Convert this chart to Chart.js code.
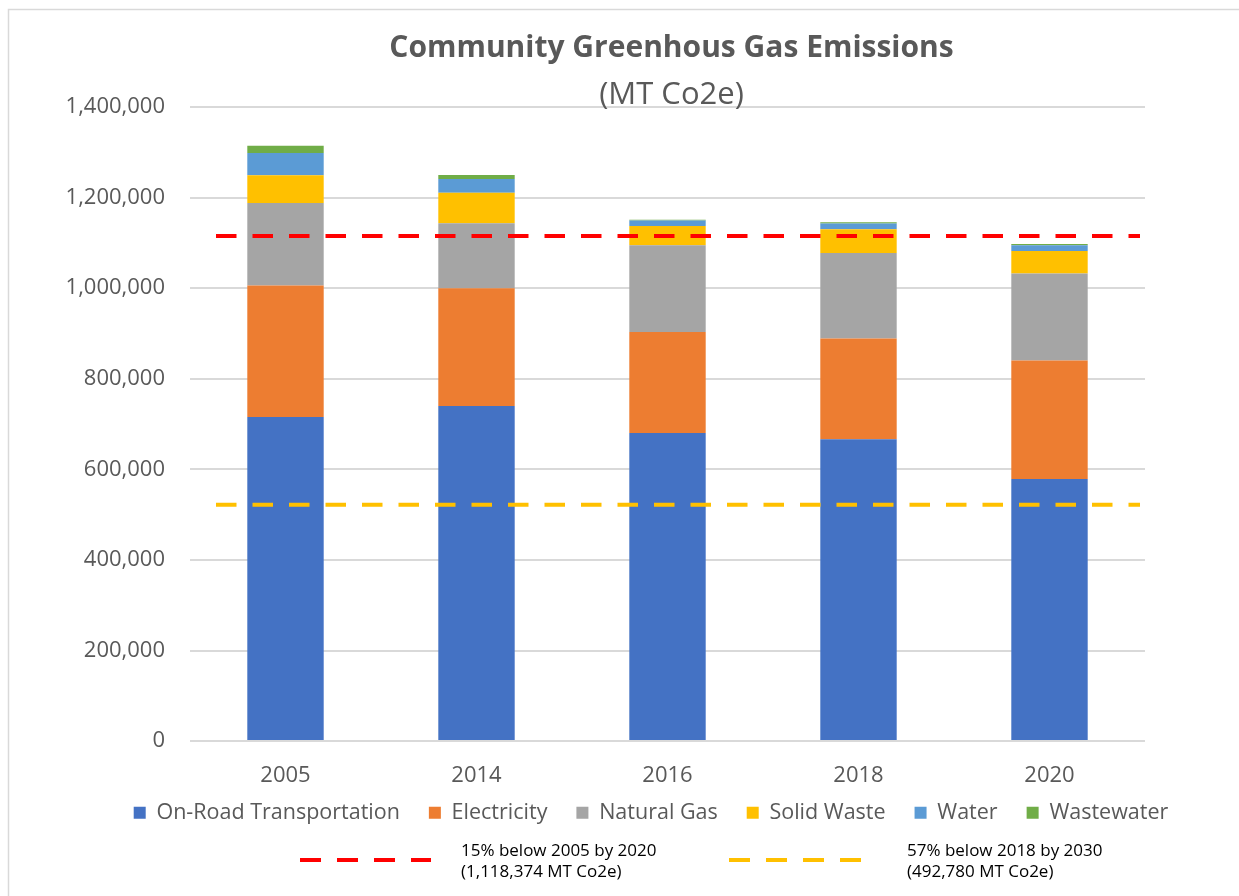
<!DOCTYPE html>
<html>
<head>
<meta charset="utf-8">
<script src="https://cdn.jsdelivr.net/npm/chart.js@4.4.1/dist/chart.umd.min.js"></script>
<style>
  html, body { margin: 0; padding: 0; background: #fff; }
  #wrap { position: absolute; left: 0; top: 0; width: 1239px; height: 896px; }
</style>
</head>
<body>
<div id="wrap"><canvas id="ghgChart"></canvas></div>
<script>
const years = ['2005', '2014', '2016', '2018', '2020'];
const transportation = [715500, 739900, 680000, 666700, 578600];
const electricity = [290500, 260100, 223200, 222400, 261600];
const naturalGas = [181800, 143400, 191400, 188500, 192200];
const solidWaste = [61400, 67200, 42900, 52500, 49500];
const water = [49400, 30400, 11800, 12600, 12600];
const wastewater = [15600, 8900, 2000, 3000, 3000];

const yMin = 0;
const yMax = 1400000;
const yStep = 200000;

const targetValues = [1115000, 522000];
const targetColors = ['#FF0000', '#FFC000'];
const targetLabels = [
  ['15% below 2005 by 2020', '(1,118,374 MT Co2e)'],
  ['57% below 2018 by 2030', '(492,780 MT Co2e)']
];

const textGray = '#595959';
const gridGray = '#D9D9D9';

// frame + white background
const framePlugin = {
  id: 'frame',
  beforeDraw(chart) {
    const ctx = chart.ctx;
    ctx.save();
    ctx.fillStyle = '#fff';
    ctx.fillRect(0, 0, chart.width, chart.height);
    ctx.strokeStyle = gridGray;
    ctx.lineWidth = 1.5;
    ctx.strokeRect(8.5, 9.5, chart.width + 20, chart.height + 20);
    ctx.restore();
  }
};

// pull the series legend up closer to the axis labels
const legendShift = {
  id: 'legendShift',
  afterLayout(chart) {
    const lg = chart.legend;
    if (!lg) return;
    const top = 773;
    lg.bottom = top + lg.height;
    lg.top = top;
  }
};

// title drawn by hand so it can overlap the top of the plot like the original
const titlePlugin = {
  id: 'titles',
  afterDraw(chart) {
    const ctx = chart.ctx;
    const cx = (chart.chartArea.left + chart.chartArea.right) / 2 + 4;
    ctx.save();
    ctx.fillStyle = textGray;
    ctx.textAlign = 'center';
    ctx.textBaseline = 'middle';
    ctx.font = 'bold 30px "Open Sans"';
    ctx.fillText('Community Greenhous Gas Emissions', cx, 48);
    ctx.font = '31px "Open Sans"';
    ctx.fillText('(MT Co2e)', cx, 95);
    ctx.restore();
  }
};

// dashed target lines across the plot
const targetPlugin = {
  id: 'targets',
  afterDatasetsDraw(chart) {
    const ctx = chart.ctx;
    const y = chart.scales.y;
    const a = chart.chartArea;
    ctx.save();
    ctx.lineWidth = 4;
    ctx.setLineDash([20.5, 16]);
    targetValues.forEach((v, i) => {
      const py = y.getPixelForValue(v);
      ctx.strokeStyle = targetColors[i];
      ctx.beginPath();
      ctx.moveTo(a.left + 26, py);
      ctx.lineTo(a.right - 5, py);
      ctx.stroke();
    });
    ctx.restore();
  }
};

// second legend for the target lines
const targetLegendPlugin = {
  id: 'targetLegend',
  afterDraw(chart) {
    const ctx = chart.ctx;
    const segs = [[300, 431], [729, 875]];
    const textX = [461, 907];
    ctx.save();
    targetValues.forEach((v, i) => {
      ctx.strokeStyle = targetColors[i];
      ctx.lineWidth = 4;
      ctx.setLineDash([21, 16]);
      ctx.beginPath();
      ctx.moveTo(segs[i][0], 860);
      ctx.lineTo(segs[i][1], 860);
      ctx.stroke();
      ctx.fillStyle = '#000';
      ctx.font = '17px "Liberation Sans Narrow", "Open Sans"';
      ctx.textAlign = 'left';
      ctx.textBaseline = 'middle';
      ctx.fillText(targetLabels[i][0], textX[i], 851);
      ctx.fillText(targetLabels[i][1], textX[i], 872);
    });
    ctx.restore();
  }
};

const mk = (label, data, color) => ({
  label, data, backgroundColor: color, borderWidth: 0,
  barPercentage: 0.4, categoryPercentage: 1.0
});

new Chart(document.getElementById('ghgChart'), {
  type: 'bar',
  data: {
    labels: years,
    datasets: [
      mk('On-Road Transportation', transportation, '#4472C4'),
      mk('Electricity', electricity, '#ED7D31'),
      mk('Natural Gas', naturalGas, '#A5A5A5'),
      mk('Solid Waste', solidWaste, '#FFC000'),
      mk('Water', water, '#5B9BD5'),
      mk('Wastewater', wastewater, '#70AD47')
    ]
  },
  options: {
    responsive: true,
    maintainAspectRatio: false,
    animation: false,
    layout: { padding: { top: 107, left: 63, right: 0, bottom: 26 } },
    plugins: {
      title: { display: false },
      tooltip: { enabled: false },
      legend: {
        position: 'bottom',
        labels: {
          boxWidth: 12,
          boxHeight: 12,
          padding: 29,
          color: textGray,
          font: { family: 'Open Sans', size: 21.5 }
        }
      }
    },
    scales: {
      x: {
        stacked: true,
        grid: { display: false, drawTicks: false },
        border: { display: false },
        ticks: { color: textGray, padding: 21, font: { family: 'Open Sans', size: 22 } }
      },
      y: {
        stacked: true,
        min: yMin,
        max: yMax,
        afterFit(scale) { scale.width = 127; },
        grid: { color: gridGray, lineWidth: 2, drawTicks: false },
        border: { display: false },
        ticks: {
          stepSize: yStep,
          padding: 25,
          color: textGray,
          font: { family: 'Open Sans', size: 22 },
          callback: v => v.toLocaleString('en-US')
        }
      },
      // empty right axis, only keeps the plot clear of the right edge
      y2: {
        position: 'right',
        min: yMin,
        max: yMax,
        afterFit(scale) { scale.width = 94; },
        grid: { display: false, drawTicks: false },
        border: { display: false },
        ticks: { display: false }
      }
    }
  },
  plugins: [framePlugin, legendShift, titlePlugin, targetPlugin, targetLegendPlugin]
});
</script>
</body>
</html>
